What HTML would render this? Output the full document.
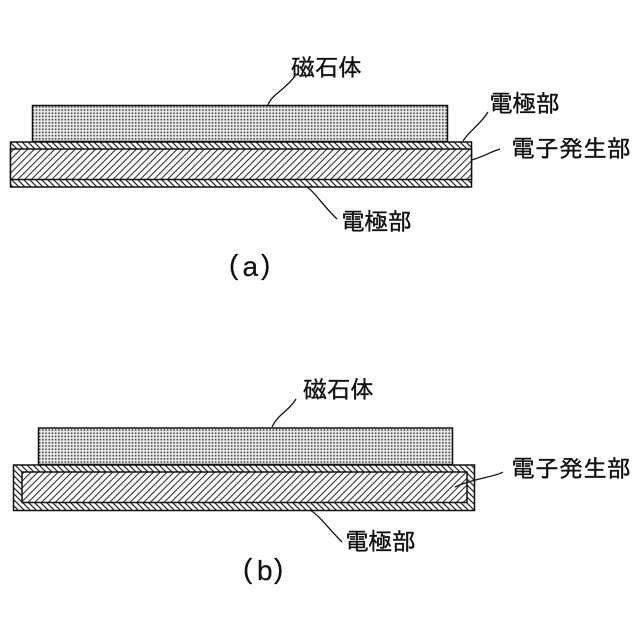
<!DOCTYPE html>
<html><head><meta charset="utf-8"><style>
html,body{margin:0;padding:0;background:#fff;width:640px;height:640px;overflow:hidden}
svg{display:block}
text{font-family:"Liberation Sans","IPAGothic","Noto Sans CJK JP",sans-serif;font-size:24px;fill:#111;stroke:#111;stroke-width:.35px}
text.p{font-size:28px;stroke-width:.2px}
</style></head><body>
<svg width="640" height="640" viewBox="0 0 640 640" xmlns="http://www.w3.org/2000/svg">
<defs>
<pattern id="dots" width="3.2" height="3.2" patternUnits="userSpaceOnUse"><rect width="3.2" height="3.2" fill="#e8e8e8"/><rect x="0.5" y="0.5" width="1.5" height="1.5" fill="#333"/></pattern>
<pattern id="fw" width="6.8" height="6.8" patternUnits="userSpaceOnUse"><rect width="6.8" height="6.8" fill="#fff"/><path d="M-1.7 1.7L1.7 -1.7M0 6.8L6.8 0M5.1 8.5L8.5 5.1" stroke="#222" stroke-width="1"/></pattern>
<pattern id="bk" width="6" height="6" patternUnits="userSpaceOnUse"><rect width="6" height="6" fill="#fff"/><path d="M-1.5 4.5L1.5 7.5M0 0L6 6M4.5 -1.5L7.5 1.5" stroke="#222" stroke-width="1.2"/></pattern>
</defs>
<g stroke="#111" stroke-width="1.5">
<rect x="32.5" y="105.5" width="415" height="36" fill="url(#dots)"/>
<rect x="10.5" y="142" width="461" height="45" fill="url(#bk)"/>
<rect x="10.5" y="149" width="461" height="30.5" fill="url(#fw)"/>
<rect x="38.5" y="428" width="414" height="36.5" fill="url(#dots)"/>
<rect x="13.5" y="465" width="461" height="45.5" fill="url(#bk)"/>
<rect x="22" y="472" width="445" height="30.5" fill="url(#fw)"/>
</g>
<g fill="none" stroke="#111" stroke-width="1.3">
<path d="M268 105C272 94 285 90 295 76"/>
<path d="M463 141C470 130 480 125 488 112"/>
<path d="M472 160C485 156 490 152 500 149"/>
<path d="M307 187C316 193 322 205 337 219"/>
<path d="M272 427C278 414 288 412 296 399"/>
<path d="M455 487C475 478 495 477 503 472"/>
<path d="M310 510C320 516 328 528 342 542"/>
</g>
<text x="291" y="76" textLength="71" lengthAdjust="spacing">磁石体</text>
<text x="489" y="112" textLength="71" lengthAdjust="spacing">電極部</text>
<text x="511" y="157" textLength="120" lengthAdjust="spacing">電子発生部</text>
<text x="341" y="230" textLength="71" lengthAdjust="spacing">電極部</text>
<text x="303" y="398" textLength="71" lengthAdjust="spacing">磁石体</text>
<text x="511" y="477" textLength="120" lengthAdjust="spacing">電子発生部</text>
<text x="345" y="550" textLength="71" lengthAdjust="spacing">電極部</text>
<text class="p" x="229" y="274">(</text>
<text class="p" x="242.5" y="276">a</text>
<text class="p" x="261" y="274">)</text>
<text class="p" x="243" y="578">(</text>
<text class="p" x="257" y="580">b</text>
<text class="p" x="274" y="578">)</text>
</svg>
</body></html>
